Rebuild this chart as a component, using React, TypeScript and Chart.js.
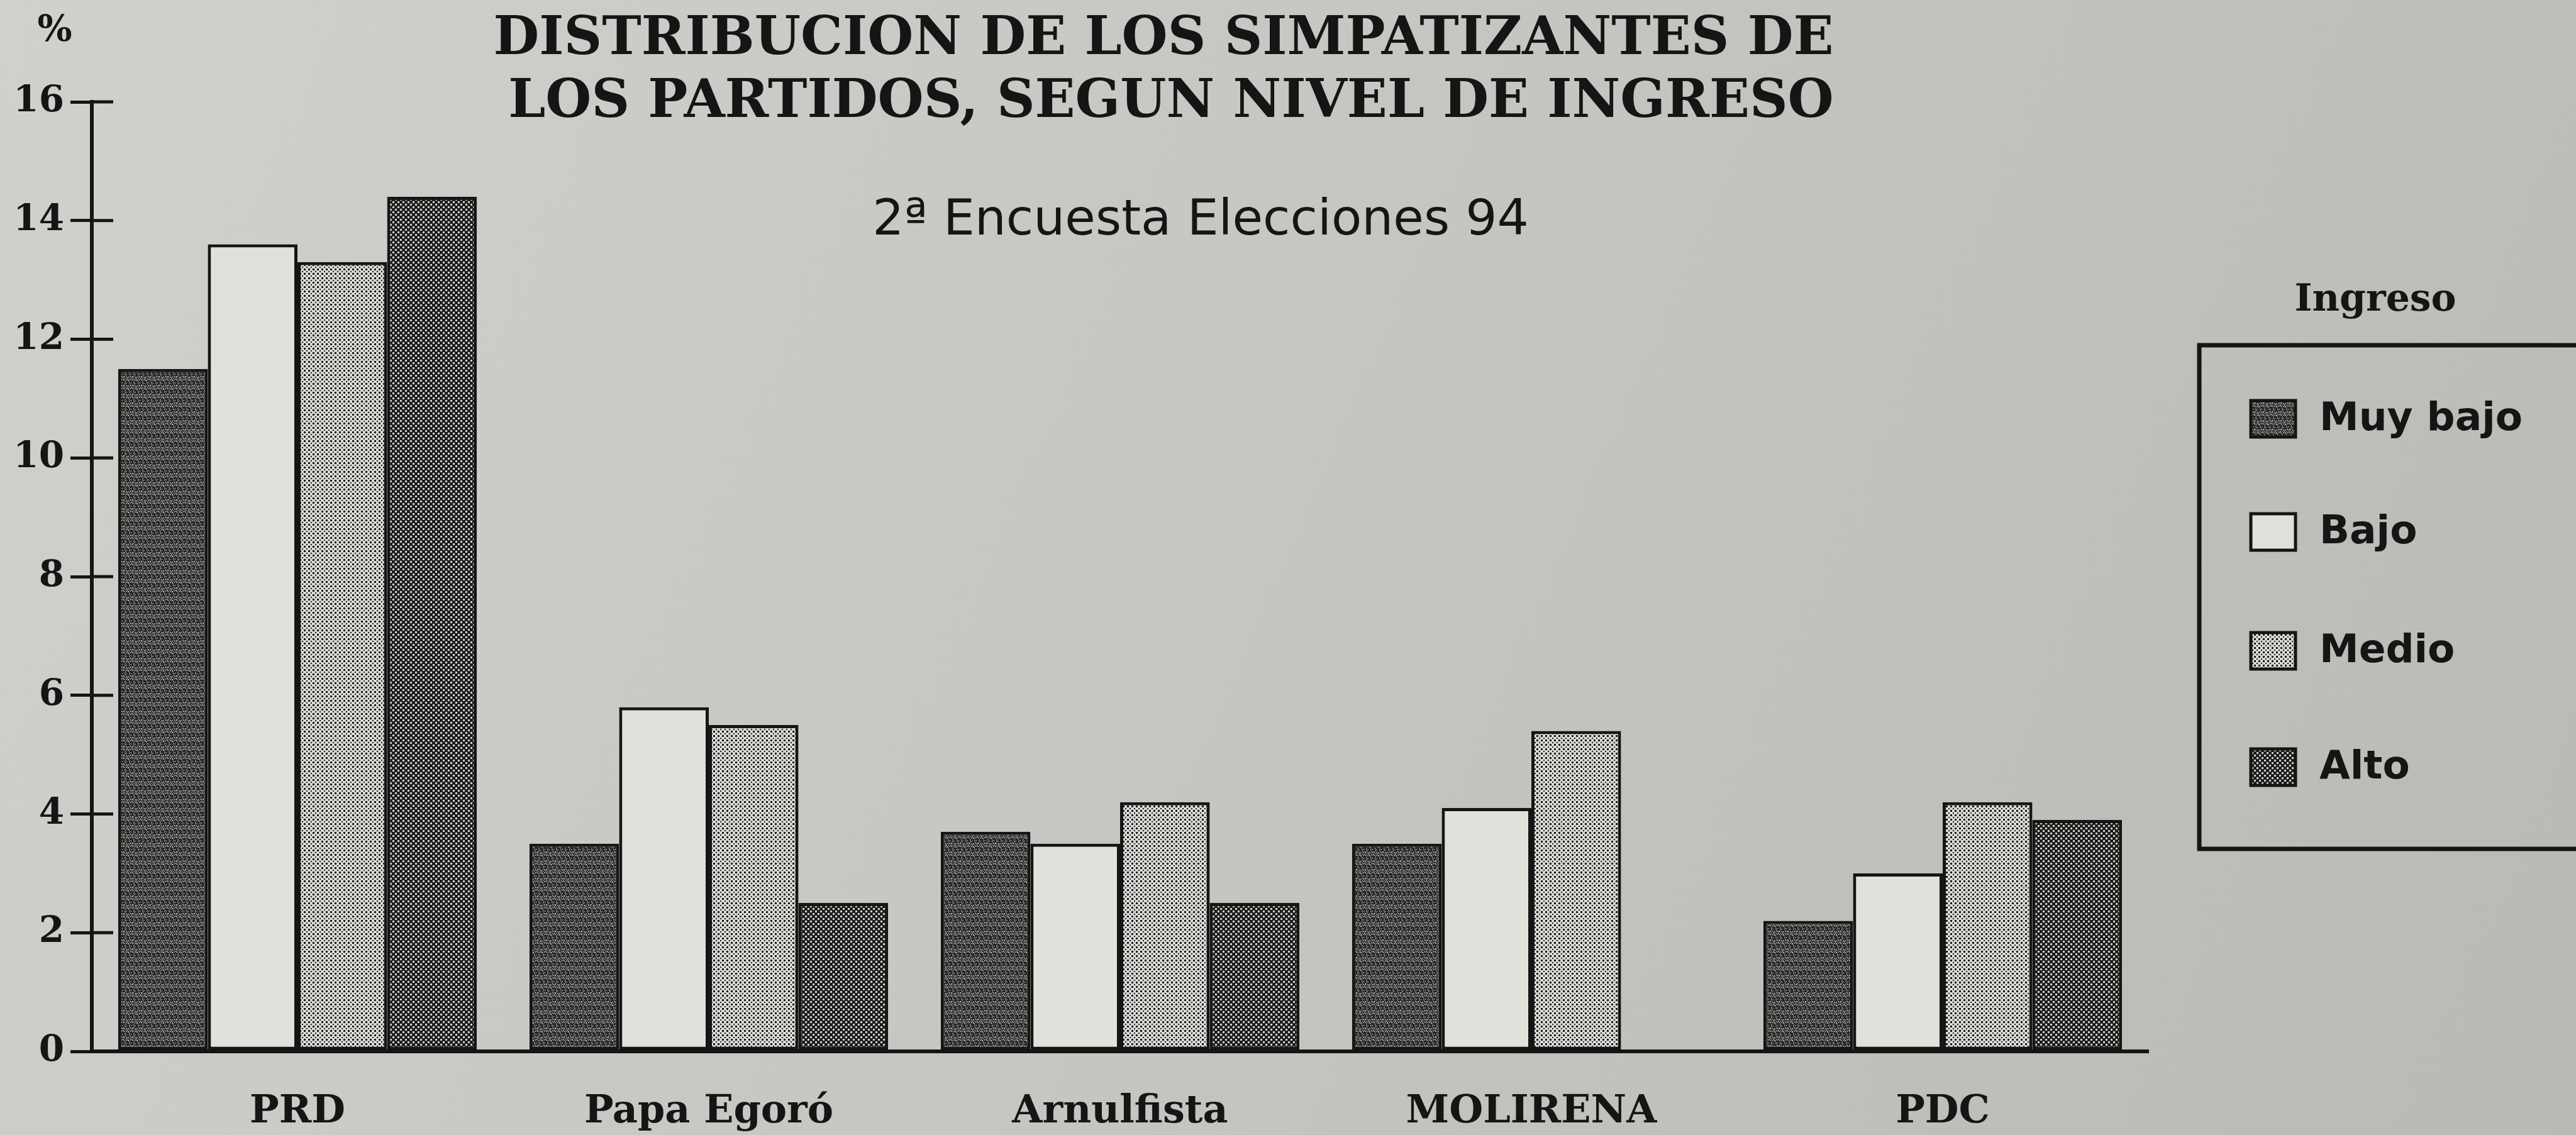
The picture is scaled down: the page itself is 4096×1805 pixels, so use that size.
import React, { useEffect, useRef } from 'react';
import { Chart, registerables } from 'chart.js';

Chart.register(...registerables);

// ---- data ----
const categories = ['PRD', 'Papa Egoró', 'Arnulfista', 'MOLIRENA', 'PDC'];
const seriesNames = ['Muy bajo', 'Bajo', 'Medio', 'Alto'];
const muyBajo = [11.5, 3.5, 3.7, 3.5, 2.2];
const bajo = [13.6, 5.8, 3.5, 4.1, 3.0];
const medio = [13.3, 5.5, 4.2, 5.4, 4.2];
const alto: (number | null)[] = [14.4, 2.5, 2.5, null, 3.9];
const yMin = 0;
const yMax = 16;
const yStep = 2;

const titleLines = ['DISTRIBUCION DE LOS SIMPATIZANTES DE', 'LOS PARTIDOS, SEGUN NIVEL DE INGRESO'];
const subtitle = '2ª Encuesta Elecciones 94';
const legendTitle = 'Ingreso';
const yUnit = '%';

const INK = '#151515';

function makePattern(kind: string): CanvasPattern | string {
  const c = document.createElement('canvas');
  const ctx = c.getContext('2d');
  if (!ctx) return '#777';
  if (kind === 'muy') {
    c.width = 14; c.height = 14;
    ctx.fillStyle = '#282828';
    ctx.fillRect(0, 0, 14, 14);
    ctx.fillStyle = '#a9a9a6';
    for (let i = 0; i < 14; i++) {
      for (let j = 0; j < 14; j++) {
        if ((i * 37 + j * 91 + ((i * j) % 7)) % 10 < 3) ctx.fillRect(i, j, 1, 1);
      }
    }
  } else if (kind === 'medio') {
    c.width = 7; c.height = 7;
    ctx.fillStyle = '#d8d8d5';
    ctx.fillRect(0, 0, 7, 7);
    ctx.fillStyle = '#1a1a1a';
    ctx.fillRect(0, 0, 3, 3);
    ctx.fillRect(4, 4, 2, 2);
  } else if (kind === 'alto') {
    c.width = 8; c.height = 8;
    ctx.fillStyle = '#1e1e1e';
    ctx.fillRect(0, 0, 8, 8);
    ctx.fillStyle = '#cfcfcc';
    ctx.fillRect(0, 0, 3, 3);
    ctx.fillRect(4, 4, 3, 3);
  } else {
    return '#e2e0db';
  }
  return ctx.createPattern(c, 'repeat') || '#777';
}

const decorPlugin = {
  id: 'decor',
  beforeDraw(chart: any) {
    const { ctx, width, height } = chart;
    ctx.save();
    const g = ctx.createLinearGradient(0, 0, width, height);
    g.addColorStop(0, '#d2d0cc');
    g.addColorStop(0.5, '#c7c5c1');
    g.addColorStop(1, '#bbb9b4');
    ctx.fillStyle = g;
    ctx.fillRect(0, 0, width, height);
    ctx.restore();
  },
  afterDraw(chart: any) {
    const { ctx, chartArea } = chart;
    const yScale = chart.scales.y;
    ctx.save();
    // inward half of the y ticks
    ctx.strokeStyle = INK;
    ctx.lineWidth = 5;
    yScale.ticks.forEach((t: any) => {
      const y = yScale.getPixelForValue(t.value);
      ctx.beginPath();
      ctx.moveTo(chartArea.left, y);
      ctx.lineTo(chartArea.left + 34, y);
      ctx.stroke();
    });
    // unit label
    ctx.fillStyle = INK;
    ctx.font = 'bold 58px "DejaVu Serif"';
    ctx.textAlign = 'center';
    ctx.textBaseline = 'middle';
    ctx.fillText(yUnit, 87, yScale.getPixelForValue(yMax) - 112);

    // titles
    ctx.font = 'bold 84px "DejaVu Serif"';
    ctx.fillText(titleLines[0], 1850, 64);
    ctx.fillText(titleLines[1], 1862, 164);
    ctx.font = '79px "DejaVu Sans"';
    ctx.fillText(subtitle, 1909, 352);

    // legend
    ctx.font = 'bold 60px "DejaVu Serif"';
    ctx.fillText(legendTitle, 3777, 478);
    ctx.lineWidth = 7;
    ctx.strokeStyle = INK;
    ctx.strokeRect(3497, 549, 900, 801);
    const rows = [666, 846, 1035, 1220];
    ctx.textAlign = 'left';
    ctx.font = 'bold 63px "DejaVu Sans"';
    chart.data.datasets.forEach((ds: any, i: number) => {
      const y = rows[i];
      ctx.fillStyle = ds.backgroundColor;
      ctx.fillRect(3579, y - 29, 71, 58);
      ctx.lineWidth = 5;
      ctx.strokeStyle = INK;
      ctx.strokeRect(3579, y - 29, 71, 58);
      ctx.fillStyle = INK;
      ctx.fillText(ds.label, 3688, y + 2);
    });
    ctx.restore();
  },
};

export default function App() {
  const ref = useRef<HTMLCanvasElement | null>(null);
  useEffect(() => {
    if (!ref.current) return;
    const fills = [makePattern('muy'), makePattern('bajo'), makePattern('medio'), makePattern('alto')];
    const values = [muyBajo, bajo, medio, alto];
    const chart = new Chart(ref.current, {
      type: 'bar',
      data: {
        labels: categories,
        datasets: seriesNames.map((name, i) => ({
          label: name,
          data: values[i] as any,
          backgroundColor: fills[i] as any,
          borderColor: INK,
          borderWidth: 5,
          borderSkipped: false,
          barPercentage: 1,
          categoryPercentage: 0.872,
        })),
      },
      options: {
        animation: false,
        responsive: false,
        devicePixelRatio: 1,
        layout: { padding: { left: 0, right: 680, top: 162, bottom: 0 } },
        plugins: {
          legend: { display: false },
          title: { display: false },
          tooltip: { enabled: false },
        },
        scales: {
          x: {
            grid: { display: false },
            border: { display: true, color: INK, width: 6 },
            ticks: {
              color: INK,
              font: { family: 'DejaVu Serif', weight: 'bold', size: 62 },
              padding: 52,
              maxRotation: 0,
              autoSkip: false,
            },
            afterFit: (s: any) => { s.height = 133; },
          },
          y: {
            min: yMin,
            max: yMax,
            ticks: {
              stepSize: yStep,
              color: INK,
              font: { family: 'DejaVu Serif', weight: 'bold', size: 58 },
              padding: 10,
            },
            grid: { drawOnChartArea: false, drawTicks: true, tickLength: 34, color: INK, lineWidth: 5 },
            border: { display: true, color: INK, width: 6 },
            afterFit: (s: any) => { s.width = 146; },
          },
        },
      } as any,
      plugins: [decorPlugin],
    });
    return () => chart.destroy();
  }, []);
  return (
    <div style={{ position: 'fixed', left: 0, top: 0, width: 4096, height: 1805 }}>
      <canvas ref={ref} width={4096} height={1805} style={{ display: 'block', width: 4096, height: 1805 }} />
    </div>
  );
}
